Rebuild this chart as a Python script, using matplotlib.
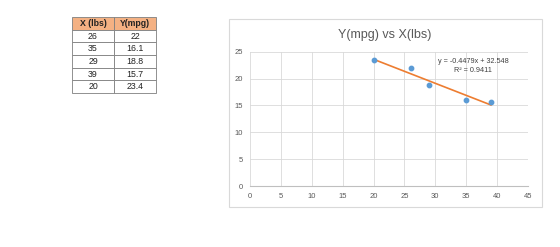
import numpy as np
import matplotlib
matplotlib.use("Agg")
import matplotlib.pyplot as plt
from matplotlib.patches import Rectangle

# data
x_lbs = [26, 35, 29, 39, 20]
y_mpg = [22, 16.1, 18.8, 15.7, 23.4]
col_labels = ["X (lbs)", "Y(mpg)"]
x_ticks = [0, 5, 10, 15, 20, 25, 30, 35, 40, 45]
y_ticks = [0, 5, 10, 15, 20, 25]
slope, intercept = -0.4479, 32.548
r2 = 0.9411

plt.rcParams['font.family'] = ['Liberation Sans', 'DejaVu Sans']
W, H = 560, 247
fig = plt.figure(figsize=(W / 100, H / 100), dpi=100)

def box(x0, y0, x1, y1):
    return [x0 / W, 1 - y1 / H, (x1 - x0) / W, (y1 - y0) / H]

# table on the left
tax = fig.add_axes(box(72, 17, 156, 93))
tax.axis("off")
cells = [[str(a), str(b)] for a, b in zip(x_lbs, y_mpg)]
tbl = tax.table(cellText=cells, colLabels=col_labels, cellLoc="center",
                bbox=[0, 0, 1, 1])
tbl.auto_set_font_size(False)
for (r, c), cell in tbl.get_celld().items():
    cell.set_edgecolor("#7F7F7F")
    cell.set_linewidth(0.6)
    cell.get_text().set_fontsize(6.3)
    cell.get_text().set_color("#222222")
    if r == 0:
        cell.set_facecolor("#F4B183")
        cell.get_text().set_fontweight("bold")

# chart frame
fig.patches.append(Rectangle((229 / W, 1 - 207 / H), 313 / W, 188 / H,
                             transform=fig.transFigure, fill=False,
                             edgecolor="#D9D9D9", linewidth=0.8))
fig.text(385 / W, 1 - 35 / H, "Y(mpg) vs X(lbs)", ha="center", va="center",
         fontsize=9, color="#595959")

ax = fig.add_axes(box(250, 51.7, 528, 186))
ax.scatter(x_lbs, y_mpg, s=10, color="#5B9BD5", zorder=3)
xt = np.array([min(x_lbs), max(x_lbs)])
ax.plot(xt, slope * xt + intercept, color="#ED7D31", lw=1.2, zorder=2)
fig.text(473 / W, 1 - 66 / H,
         f"y = {slope}x + {intercept}\nR² = {r2}",
         fontsize=5.2, color="#404040", ha="center", va="center",
         linespacing=1.5)
ax.set_xlim(0, 45)
ax.set_ylim(0, 25)
ax.set_xticks(x_ticks)
ax.set_yticks(y_ticks)
ax.grid(True, color="#D9D9D9", lw=0.6)
ax.set_axisbelow(True)
for s in ["top", "right", "left"]:
    ax.spines[s].set_visible(False)
ax.spines["bottom"].set_color("#BFBFBF")
ax.spines["bottom"].set_linewidth(0.8)
ax.tick_params(length=0, labelsize=5.5, colors="#595959", pad=5)

fig.savefig("out.png", dpi=100)
